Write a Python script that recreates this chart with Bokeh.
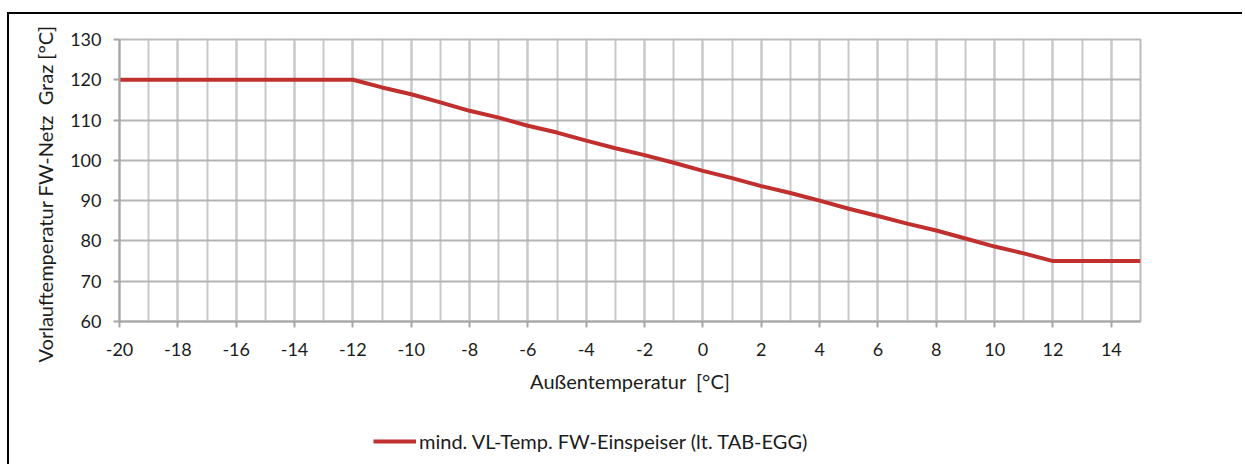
from bokeh.plotting import figure
from bokeh.layouts import column
from bokeh.models import SingleIntervalTicker, Legend, LegendItem, Range1d, PrintfTickFormatter, Title
from bokeh.embed import file_html
from bokeh.resources import INLINE

# Data
aussen_temp = [-20, -19, -18, -17, -16, -15, -14, -13, -12, -11, -10, -9, -8, -7, -6, -5, -4, -3,
               -2, -1, 0, 1, 2, 3, 4, 5, 6, 7, 8, 9, 10, 11, 12, 13, 14, 15]
vl_temp = [120, 120, 120, 120, 120, 120, 120, 120, 120, 118.1, 116.4, 114.4, 112.3, 110.6, 108.6, 106.9,
           104.9, 103.0, 101.3, 99.4, 97.4, 95.6, 93.6, 91.9, 90.0, 88.0, 86.2, 84.3, 82.6, 80.6,
           78.6, 76.9, 75, 75, 75, 75]
legend_label = "mind. VL-Temp. FW-Einspeiser (lt. TAB-EGG)"
x_title = "Außentemperatur\u00a0 [°C]"
y_title = "Vorlauftemperatur FW-Netz\u00a0 Graz [°C]"

FONT = "Lato"
TXT = "#1C1C1C"
LINE_COLOR = "#C0302E"

p = figure(width=1233, height=400, output_backend="svg", toolbar_location=None,
           x_range=Range1d(-20, 15), y_range=Range1d(60, 130),
           min_border_left=110, min_border_right=102, min_border_top=25, min_border_bottom=93)
p.outline_line_color = "#BBBBBB"
p.outline_line_width = 2

p.xaxis.ticker = SingleIntervalTicker(interval=2, num_minor_ticks=2)
p.yaxis.ticker = SingleIntervalTicker(interval=10, num_minor_ticks=0)
p.xaxis.formatter = PrintfTickFormatter(format="%d")
p.yaxis.formatter = PrintfTickFormatter(format="%d")

for ax in (p.xaxis[0], p.yaxis[0]):
    ax.axis_line_color = "#A6A6A6"
    ax.axis_line_width = 2
    ax.major_tick_line_color = "#A6A6A6"
    ax.major_tick_line_width = 2
    ax.major_tick_out = 6
    ax.major_tick_in = 0
    ax.minor_tick_line_color = None
    ax.major_label_text_font = FONT
    ax.major_label_text_font_size = "18px"
    ax.major_label_text_color = TXT
    ax.axis_label_text_font = FONT
    ax.axis_label_text_font_size = "20px"
    ax.axis_label_text_font_style = "normal"
    ax.axis_label_text_color = TXT

p.xaxis.axis_label = x_title
p.xaxis.major_label_standoff = 15
p.xaxis.axis_label_standoff = 10
p.yaxis.major_label_standoff = 12

# y-axis title as a left-side title, starting below the plot area like in the reference
ytitle = Title(text=y_title, align="left", offset=-41, standoff=22,
               text_font=FONT, text_font_size="20px", text_font_style="normal", text_color=TXT)
p.add_layout(ytitle, "left")

p.xgrid.grid_line_color = "#C8C8C8"
p.xgrid.grid_line_width = 2
p.xgrid.minor_grid_line_color = "#C8C8C8"
p.xgrid.minor_grid_line_width = 2
p.ygrid.grid_line_color = "#B4B4B4"
p.ygrid.grid_line_width = 2

p.line(aussen_temp, vl_temp, line_color=LINE_COLOR, line_width=4)

# Legend strip below the chart (a separate small figure so the legend is not clipped)
p2 = figure(width=1233, height=50, output_backend="svg", toolbar_location=None,
            x_range=Range1d(1000, 1001), y_range=Range1d(1000, 1001),
            min_border=0, min_border_left=0, min_border_right=0, min_border_top=0, min_border_bottom=0)
p2.axis.visible = False
p2.grid.visible = False
p2.outline_line_color = None
r2 = p2.line(aussen_temp, vl_temp, line_color=LINE_COLOR, line_width=4)

legend = Legend(items=[LegendItem(label=legend_label, renderers=[r2])],
                location=(254, 11), orientation="horizontal")
legend.padding = 0
legend.margin = 0
legend.border_line_color = None
legend.background_fill_alpha = 0
legend.glyph_width = 43
legend.label_standoff = 3
legend.label_text_font = FONT
legend.label_text_font_size = "20px"
legend.label_text_color = TXT
p2.add_layout(legend, "center")

layout = column(p, p2, spacing=0)
layout.styles = {"margin-top": "12px", "margin-left": "7px",
                 "border-left": "2px solid black", "border-top": "2px solid black"}

open("out.html", "w").write(file_html(layout, INLINE))
